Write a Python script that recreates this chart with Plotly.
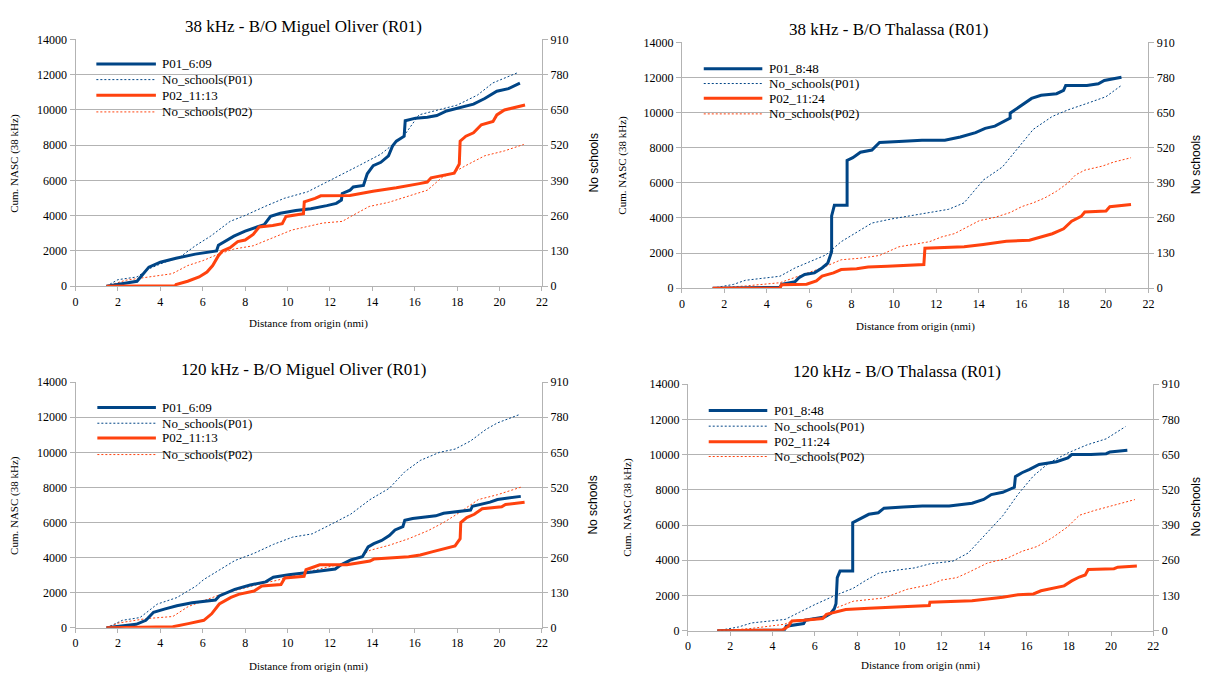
import plotly.graph_objects as go

# page body has an 8px margin on every side: the figure is drawn from (8, 8)
OFF = 8
W, H = 1215 - 2 * OFF, 682 - 2 * OFF
BLUE = "#004586"
ORANGE = "#ff420e"
GRID = "#b3b3b3"
SERIF = "Liberation Serif"
SANS = "Liberation Sans"

# ---------------- data ----------------
titles = ["38 kHz - B/O Miguel Oliver (R01)", "38 kHz - B/O Thalassa (R01)",
          "120 kHz - B/O Miguel Oliver (R01)", "120 kHz - B/O Thalassa (R01)"]
labels_mo = ["P01_6:09", "No_schools(P01)", "P02_11:13", "No_schools(P02)"]
labels_th = ["P01_8:48", "No_schools(P01)", "P02_11:24", "No_schools(P02)"]
x_ticks = [0, 2, 4, 6, 8, 10, 12, 14, 16, 18, 20, 22]
nasc_ticks = [0, 2000, 4000, 6000, 8000, 10000, 12000, 14000]
school_ticks = [0, 130, 260, 390, 520, 650, 780, 910]

# Panel 1: 38 kHz Miguel Oliver
mo38_p01_x = [1.46, 2.0, 2.9, 3.46, 4.0, 4.74, 5.65, 6.65, 6.74, 7.47, 8.0, 8.56, 8.9, 9.2, 9.66, 10.39, 11.1, 11.85,
              12.3, 12.54, 12.58, 12.95, 13.1, 13.58, 13.76, 14.04, 14.4, 14.76, 14.95, 15.13, 15.5, 15.55, 16.04,
              16.59, 17.04, 17.5, 18.23, 18.77, 19.3, 19.87, 20.42, 20.96]
mo38_p01_nasc = [0, 100, 280, 1080, 1360, 1580, 1820, 2000, 2320, 2840, 3120, 3360, 3490, 3960, 4140, 4290, 4390,
                 4570, 4700, 4890, 5260, 5450, 5630, 5720, 6380, 6840, 7030, 7400, 7950, 8230, 8510, 9390, 9535,
                 9590, 9680, 9940, 10180, 10330, 10650, 11060, 11210, 11520]
mo38_p02_x = [1.46, 4.7, 4.74, 5.29, 5.83, 6.2, 6.47, 6.74, 6.93, 7.29, 7.65, 8.0, 8.38, 8.66, 9.3, 9.75, 9.93, 10.75,
              10.79, 11.3, 11.57, 12.94, 14.03, 15.13, 16.22, 16.59, 16.77, 17.3, 17.86, 18.1, 18.14, 18.41, 18.77,
              19.14, 19.69, 19.87, 20.23, 21.2]
mo38_p02_nasc = [0, 20, 90, 280, 520, 800, 1170, 1730, 2000, 2190, 2530, 2620, 2940, 3360, 3440, 3550, 3960, 4110,
                 4790, 4980, 5130, 5150, 5390, 5580, 5820, 5910, 6150, 6280, 6410, 6930, 8230, 8510, 8700, 9160,
                 9350, 9720, 10000, 10280]
mo38_s01_x = [1.46, 2.0, 2.9, 3.46, 4.19, 4.92, 5.65, 6.38, 7.29, 8.0, 8.93, 9.84, 10.94, 12.03, 13.3, 14.4, 15.5,
              16.2, 17.1, 18.0, 18.96, 19.69, 20.87]
mo38_s01_n = [0, 24, 34, 64, 88, 107, 149, 185, 239, 261, 294, 324, 348, 390, 442, 487, 556, 632, 650, 668, 705,
              750, 788]
mo38_s02_x = [1.46, 2.37, 3.46, 4.56, 5.29, 6.0, 6.74, 7.47, 8.38, 9.3, 10.2, 11.67, 12.58, 13.12, 13.85, 14.76,
              15.67, 16.59, 17.3, 17.86, 18.41, 19.3, 20.23, 21.14]
mo38_s02_n = [0, 22, 34, 46, 76, 94, 118, 137, 149, 179, 207, 233, 239, 263, 294, 309, 330, 354, 402, 421, 445, 481,
              499, 523]

# Panel 2: 38 kHz Thalassa
th38_p01_x = [1.45, 4.62, 4.7, 5.34, 5.52, 5.79, 6.25, 6.61, 6.88, 6.97, 7.06, 7.06, 7.19, 7.79, 7.79, 8.06, 8.42,
              8.96, 9.32, 10.23, 11.32, 12.4, 13.13, 13.85, 14.3, 14.76, 15.3, 15.48, 15.48, 16.03, 16.49, 16.94,
              17.67, 18.0, 18.1, 19.1, 19.64, 19.92, 20.73]
th38_p01_nasc = [0, 40, 220, 370, 590, 780, 870, 1150, 1430, 1710, 2080, 4120, 4720, 4720, 7280, 7430, 7740, 7870,
                 8300, 8350, 8430, 8430, 8610, 8860, 9100, 9230, 9600, 9690, 9970, 10430, 10810, 10990, 11080,
                 11270, 11550, 11550, 11640, 11830, 12010]
th38_p02_x = [1.45, 4.62, 4.7, 5.88, 6.34, 6.61, 7.15, 7.51, 8.24, 8.78, 9.69, 10.59, 11.41, 11.46, 12.4, 13.31,
              14.21, 15.3, 16.39, 16.94, 17.47, 18.0, 18.38, 18.83, 19.0, 20.0, 20.18, 21.18]
th38_p02_nasc = [0, 0, 190, 220, 410, 690, 870, 1060, 1110, 1210, 1240, 1300, 1340, 2270, 2300, 2360, 2490, 2670,
                 2730, 2910, 3100, 3380, 3810, 4090, 4340, 4400, 4640, 4770]
th38_s01_x = [1.45, 2.44, 2.99, 3.89, 4.62, 5.34, 6.07, 6.79, 7.51, 8.24, 8.96, 9.87, 10.77, 11.86, 12.58, 13.31,
              14.21, 15.12, 15.84, 16.57, 17.47, 18.2, 19.1, 20.0, 20.73]
th38_s01_n = [0, 14, 29, 38, 44, 75, 99, 123, 172, 207, 241, 256, 268, 282, 292, 316, 400, 449, 517, 588, 636, 660,
              684, 709, 751]
th38_s02_x = [1.45, 2.99, 4.62, 5.52, 6.61, 7.51, 8.42, 9.32, 10.23, 11.68, 12.22, 12.86, 13.31, 14.03, 14.76,
              15.48, 16.03, 16.57, 17.11, 17.65, 18.2, 18.56, 19.0, 19.83, 20.37, 21.18]
th38_s02_n = [0, 8, 20, 45, 75, 105, 111, 121, 153, 172, 189, 202, 220, 250, 262, 280, 302, 316, 334, 358, 389, 419,
              437, 452, 467, 483]

# Panel 3: 120 kHz Miguel Oliver
mo120_p01_x = [1.46, 2.04, 2.86, 3.32, 3.68, 4.23, 4.78, 5.5, 6.6, 6.78, 7.51, 8.24, 8.97, 9.33, 10.06, 11.16,
               12.25, 12.52, 12.98, 13.53, 13.8, 14.07, 14.44, 14.8, 15.07, 15.44, 15.53, 15.9, 16.63, 16.99, 17.36,
               18.09, 18.63, 18.72, 19.55, 19.9, 21.0]
mo120_p01_nasc = [0, 90, 200, 430, 890, 1080, 1260, 1430, 1580, 1820, 2190, 2440, 2620, 2880, 3030, 3180, 3350,
                  3590, 3870, 4050, 4610, 4800, 4980, 5260, 5580, 5760, 6130, 6230, 6320, 6380, 6530, 6620, 6710,
                  6930, 7160, 7310, 7490]
mo120_p02_x = [1.46, 4.59, 5.32, 6.05, 6.42, 6.78, 7.33, 7.69, 8.42, 8.79, 9.69, 9.87, 10.78, 10.87, 11.52, 12.8,
               13.89, 14.07, 15.71, 16.26, 16.81, 17.36, 17.9, 18.14, 18.17, 18.45, 18.81, 19.18, 20.1, 20.28, 21.18]
mo120_p02_nasc = [0, 60, 240, 430, 800, 1360, 1730, 1910, 2100, 2380, 2470, 2840, 2940, 3310, 3590, 3590, 3810,
                  3920, 4050, 4150, 4330, 4520, 4670, 5080, 6000, 6280, 6470, 6790, 6900, 7030, 7160]
mo120_s01_x = [1.46, 2.22, 3.04, 3.86, 4.78, 5.69, 6.05, 6.78, 7.51, 8.42, 9.33, 10.24, 11.16, 12.07, 12.98, 13.89,
               14.8, 15.53, 16.26, 17.17, 17.9, 18.63, 19.36, 19.9, 20.91]
mo120_s01_n = [0, 28, 38, 88, 112, 155, 179, 215, 249, 276, 309, 336, 348, 384, 421, 475, 517, 578, 620, 650, 662,
               692, 735, 759, 789]
mo120_s02_x = [1.46, 2.04, 3.32, 4.59, 5.32, 6.23, 6.96, 7.69, 8.61, 9.51, 10.42, 11.34, 12.25, 12.98, 13.89, 14.8,
               15.71, 16.63, 17.36, 18.09, 19.0, 19.9, 21.09]
mo120_s02_n = [0, 18, 34, 42, 79, 107, 127, 142, 161, 176, 197, 215, 233, 245, 287, 306, 330, 360, 390, 426, 475,
               493, 523]

# Panel 4: 120 kHz Thalassa
th120_p01_x = [1.39, 4.56, 4.65, 5.47, 5.56, 6.01, 6.46, 6.74, 6.92, 7.0, 7.06, 7.19, 7.79, 7.79, 8.18, 8.55, 9.0,
               9.27, 10.18, 11.08, 12.35, 13.43, 13.98, 14.34, 14.88, 15.43, 15.48, 15.79, 16.15, 16.6, 17.42, 17.96,
               18.14, 19.05, 19.77, 19.95, 20.77]
th120_p01_nasc = [0, 40, 260, 410, 600, 690, 780, 970, 1250, 1530, 3020, 3390, 3390, 6140, 6400, 6610, 6700, 6960,
                  7020, 7080, 7080, 7240, 7450, 7730, 7860, 8140, 8750, 8970, 9160, 9440, 9590, 9810, 10000, 10000,
                  10050, 10150, 10240]
th120_p02_x = [1.39, 4.47, 4.75, 4.92, 5.47, 6.37, 6.55, 6.92, 7.46, 8.55, 9.63, 10.54, 11.41, 11.44, 12.53, 13.43,
               14.16, 14.88, 15.61, 16.33, 16.69, 17.24, 17.78, 18.14, 18.5, 18.78, 18.92, 20.14, 20.32, 21.22]
th120_p02_nasc = [0, 40, 260, 560, 600, 690, 930, 1060, 1210, 1280, 1340, 1400, 1430, 1620, 1680, 1710, 1810, 1900,
                  2050, 2090, 2270, 2420, 2550, 2830, 3050, 3170, 3480, 3520, 3610, 3670]
th120_s01_x = [1.39, 2.39, 3.02, 3.84, 4.6, 5.29, 6.01, 6.92, 7.82, 8.37, 9.0, 9.81, 10.72, 11.44, 12.53, 13.25,
               14.16, 14.88, 15.61, 16.33, 17.06, 17.96, 18.87, 19.77, 20.68]
th120_s01_n = [0, 14, 29, 36, 42, 69, 97, 129, 157, 184, 212, 223, 232, 247, 257, 287, 365, 424, 504, 571, 619, 656,
               686, 708, 753]
th120_s02_x = [1.39, 2.93, 4.56, 4.92, 6.37, 7.09, 7.82, 9.27, 10.36, 11.44, 11.99, 12.71, 13.25, 14.16, 15.07,
               15.79, 16.51, 17.24, 17.96, 18.5, 19.23, 20.14, 21.13]
th120_s02_n = [0, 8, 24, 36, 51, 87, 109, 121, 153, 170, 187, 196, 215, 250, 267, 293, 311, 344, 384, 426, 444, 462,
               484]

# ---------------- layout geometry (page pixels) ----------------
panels = [
    dict(title=titles[0], labels=labels_mo, box=(73, 543, 33, 285), title_xy=(303, 20), ylab_x=12, yr_x=595,
         xlab_y=323, leg=(94, 154, 158, [58, 74, 90, 107]),
         data=(mo38_p01_x, mo38_p01_nasc, mo38_s01_x, mo38_s01_n, mo38_p02_x, mo38_p02_nasc, mo38_s02_x, mo38_s02_n)),
    dict(title=titles[1], labels=labels_th, box=(684, 1154, 36, 287), title_xy=(892, 23), ylab_x=624, yr_x=1202,
         xlab_y=326, leg=(706, 765, 770, [63, 78, 93, 109]),
         data=(th38_p01_x, th38_p01_nasc, th38_s01_x, th38_s01_n, th38_p02_x, th38_p02_nasc, th38_s02_x, th38_s02_n)),
    dict(title=titles[2], labels=labels_mo, box=(73, 543, 383, 634), title_xy=(303, 370), ylab_x=12, yr_x=594,
         xlab_y=673, leg=(95, 154, 158, [409, 425, 440, 457]),
         data=(mo120_p01_x, mo120_p01_nasc, mo120_s01_x, mo120_s01_n, mo120_p02_x, mo120_p02_nasc, mo120_s02_x,
               mo120_s02_n)),
    dict(title=titles[3], labels=labels_th, box=(690, 1159, 385, 637), title_xy=(901, 372), ylab_x=629, yr_x=1202,
         xlab_y=672, leg=(711, 770, 775, [412, 428, 444, 459]),
         data=(th120_p01_x, th120_p01_nasc, th120_s01_x, th120_s01_n, th120_p02_x, th120_p02_nasc, th120_s02_x,
               th120_s02_n)),
]

fig = go.Figure()
layout = dict(width=W, height=H, margin=dict(l=0, r=0, t=0, b=0), paper_bgcolor="white", plot_bgcolor="white",
              font=dict(family=SERIF, size=12, color="black"), annotations=[], shapes=[], showlegend=False)


def px(xp):
    return (xp - OFF) / W


def py(yp):
    return 1 - (yp - OFF) / H


for i, p in enumerate(panels):
    n = i + 1
    xa = "x" if n == 1 else f"x{n}"
    ya_main = 2 * n - 1      # right axis: number of schools (main)
    ya_over = 2 * n          # left axis: cumulative NASC (overlay)
    ym = "y" if ya_main == 1 else f"y{ya_main}"
    yo = f"y{ya_over}"
    x0, x1, yt, yb = p["box"]
    xd = [px(x0), px(x1)]
    yd = [py(yb), py(yt)]

    axis_common = dict(showline=True, linecolor=GRID, linewidth=1, ticks="outside", tickcolor=GRID,
                       tickfont=dict(family=SERIF, size=12, color="black"), zeroline=False, tickformat="d",
                       fixedrange=True)
    layout["xaxis" if n == 1 else f"xaxis{n}"] = dict(
        domain=xd, anchor=ym, range=[0, 22], tickvals=x_ticks, showgrid=False, ticklen=4, **axis_common)
    layout["yaxis" if ya_main == 1 else f"yaxis{ya_main}"] = dict(
        domain=yd, anchor=xa, side="right", range=[0, 910], tickvals=school_ticks, showgrid=True,
        gridcolor=GRID, gridwidth=1, ticklen=5, **axis_common)
    layout[f"yaxis{ya_over}"] = dict(
        domain=yd, anchor=xa, overlaying=ym, side="left", range=[0, 14000], tickvals=nasc_ticks,
        showgrid=False, ticklen=5, **axis_common)

    p01x, p01y, s01x, s01y, p02x, p02y, s02x, s02y = p["data"]
    lb = p["labels"]
    styles = [dict(color=BLUE, width=3), dict(color=BLUE, width=1, dash="2px,2px"),
              dict(color=ORANGE, width=3), dict(color=ORANGE, width=1, dash="2px,2px")]
    fig.add_trace(go.Scatter(x=p01x, y=p01y, mode="lines", name=lb[0], xaxis=xa, yaxis=yo, line=styles[0]))
    fig.add_trace(go.Scatter(x=s01x, y=s01y, mode="lines", name=lb[1], xaxis=xa, yaxis=ym, line=styles[1]))
    fig.add_trace(go.Scatter(x=p02x, y=p02y, mode="lines", name=lb[2], xaxis=xa, yaxis=yo, line=styles[2]))
    fig.add_trace(go.Scatter(x=s02x, y=s02y, mode="lines", name=lb[3], xaxis=xa, yaxis=ym, line=styles[3]))

    # legend box (drawn as in the original: long line samples, tight rows)
    lx0, lx1, tx, rows = p["leg"]
    layout["shapes"].append(dict(type="rect", xref="paper", yref="paper", layer="between",
                                 x0=px(lx0 - 6), x1=px(tx + 97), y0=py(rows[-1] + 10), y1=py(rows[0] - 10),
                                 fillcolor="white", line=dict(width=0)))
    for k in range(4):
        layout["shapes"].append(dict(type="line", xref="paper", yref="paper", layer="above",
                                     x0=px(lx0), x1=px(lx1), y0=py(rows[k]), y1=py(rows[k]),
                                     line=styles[k]))
        layout["annotations"].append(dict(text=lb[k], x=px(tx), y=py(rows[k]), xref="paper", yref="paper",
                                          showarrow=False, xanchor="left", yanchor="middle",
                                          font=dict(family=SERIF, size=13, color="black")))

    tx0, ty0 = p["title_xy"]
    layout["annotations"] += [
        dict(text=p["title"], x=px(tx0), y=py(ty0), xref="paper", yref="paper", showarrow=False,
             xanchor="center", yanchor="middle", font=dict(family=SERIF, size=17, color="black")),
        dict(text="Cum. NASC (38 kHz)", x=px(p["ylab_x"]), y=py((yt + yb) / 2), xref="paper", yref="paper",
             showarrow=False, textangle=-90, xanchor="center", yanchor="middle",
             font=dict(family=SERIF, size=11, color="black")),
        dict(text="No schools", x=px(p["yr_x"]), y=py((yt + yb) / 2), xref="paper", yref="paper",
             showarrow=False, textangle=-90, xanchor="center", yanchor="middle",
             font=dict(family=SANS, size=12, color="black")),
        dict(text="Distance from origin (nmi)", x=px((x0 + x1) / 2), y=py(p["xlab_y"]), xref="paper",
             yref="paper", showarrow=False, xanchor="center", yanchor="middle",
             font=dict(family=SERIF, size=11, color="black")),
    ]

fig.update_layout(**layout)
fig.write_html("out.html")
